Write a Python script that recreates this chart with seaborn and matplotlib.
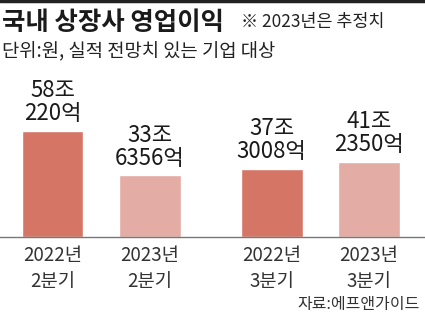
import matplotlib
matplotlib.use("Agg")
import matplotlib.pyplot as plt
import seaborn as sns
import pandas as pd
from matplotlib.lines import Line2D

# data
periods = ["2022년\n2분기", "2023년\n2분기", "2022년\n3분기", "2023년\n3분기"]
years = ["2022", "2023", "2022", "2023"]
profits = [58.0220, 33.6356, 37.3008, 41.2350]  # 조원
value_labels = ["58조\n220억", "33조\n6356억", "37조\n3008억", "41조\n2350억"]
positions = [0, 1, 2.25, 3.25]

dark = "#D57565"
light = "#E3ACA4"

sns.set_theme(style="white")
plt.rcParams['font.family'] = ['Noto Sans CJK KR', 'DejaVu Sans']

df = pd.DataFrame({"pos": positions, "profit": profits, "year": years})

fig = plt.figure(figsize=(4.25, 3.16), dpi=100)
ax = fig.add_axes([0, 79 / 316, 1, 177 / 316])

sns.barplot(data=df, x="pos", y="profit", hue="year", dodge=False,
            native_scale=True, width=0.635, palette={"2022": dark, "2023": light},
            legend=False, ax=ax, saturation=1)

ax.set_xlim(-0.539, 3.824)
ax.set_ylim(0, 96.7)
for s in ["top", "right", "left"]:
    ax.spines[s].set_visible(False)
ax.spines["bottom"].set_color("#777777")
ax.spines["bottom"].set_linewidth(1.0)
ax.set_yticks([])
ax.set_xlabel("")
ax.set_ylabel("")
ax.set_xticks(positions)
ax.set_xticklabels(periods, fontsize=13.5, color="#333333", linespacing=1.3)
ax.tick_params(axis="x", length=0, pad=6)

for p, v, lab in zip(positions, profits, value_labels):
    ax.annotate(lab, (p, v), xytext=(0, 4), textcoords="offset points",
                ha="center", va="bottom", fontsize=16, color="#1a1a1a",
                linespacing=1.0, fontweight="medium")

fig.add_artist(Line2D([0, 1], [0.997, 0.997], color="#222222", linewidth=2.5,
                      transform=fig.transFigure))
fig.text(0.005, 0.930, "국내 상장사 영업이익", fontsize=18.3, fontweight="bold",
         color="#1a1a1a", va="center", ha="left")
fig.text(0.567, 0.930, "※ 2023년은 추정치", fontsize=12.5, color="#222222",
         va="center", ha="left")
fig.text(0.005, 0.835, "단위:원, 실적 전망치 있는 기업 대상", fontsize=13.5,
         color="#222222", va="center", ha="left")
fig.text(0.988, 0.035, "자료:에프앤가이드", fontsize=11.5, color="#333333",
         va="center", ha="right")

fig.savefig("out.png", dpi=100)
